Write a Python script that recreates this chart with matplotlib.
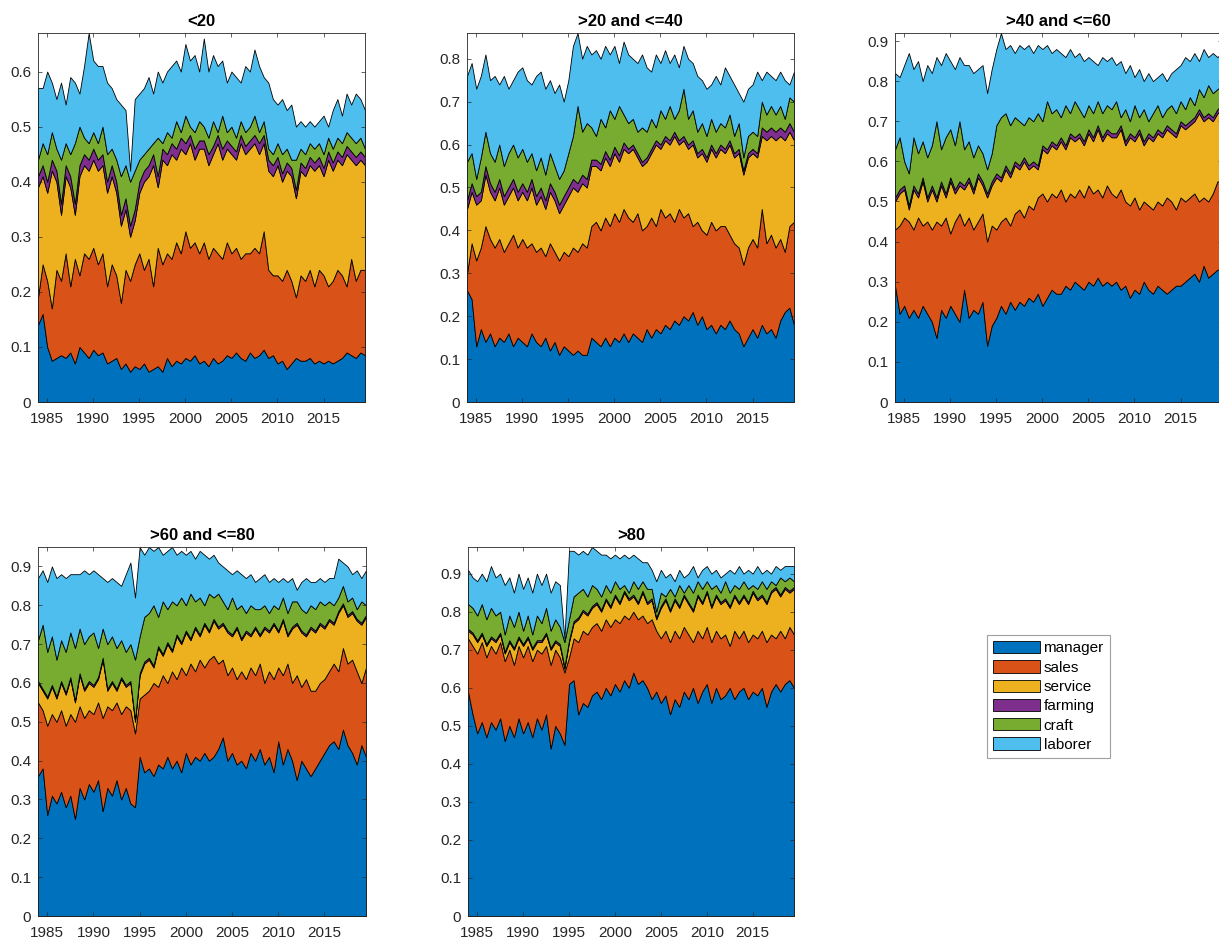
import numpy as np
import matplotlib
matplotlib.use("Agg")
import matplotlib.pyplot as plt
from matplotlib.ticker import MultipleLocator, FormatStrFormatter

plt.rcParams['font.family'] = ['Liberation Sans', 'DejaVu Sans']

# half-year steps, 1984.0 .. 2019.5
years = np.arange(1984, 2020, 0.5)
labels = ["manager", "sales", "service", "farming", "craft", "laborer"]
colors = ["#0072BD", "#D95319", "#EDB120", "#7E2F8E", "#77AC30", "#4DBEEE"]
titles = ["<20", ">20 and <=40", ">40 and <=60", ">60 and <=80", ">80"]

# cumulative top of each layer (percent)
# one row = 6 years (1984-89, 1990-95, ..., 2014-19), two points per year

# ---- <20 ----
p1_manager = [14, 16, 10, 7.5, 8, 8.5, 8, 9, 7, 10, 9, 8,
              9.5, 8.5, 9, 7, 7.5, 8, 6, 7, 5.5, 6.5, 6, 7,
              5.5, 6, 6.5, 5.5, 8, 6.5, 7.5, 7, 8, 7.5, 8.5, 7,
              7.5, 6.5, 8, 7, 7.5, 8.5, 8, 9, 8, 7.5, 9, 8,
              8.5, 9.5, 8, 8.5, 7, 7.5, 6, 7, 8, 7.5, 7.5, 8,
              7, 7.5, 7, 7.5, 7, 7.5, 8, 9, 8.5, 8, 9, 8.5]
p1_sales = [19, 25, 22, 17, 24, 22, 27, 21, 26, 23, 27, 26,
            28, 25, 27, 21, 25, 23, 18, 24, 22, 25, 27, 24,
            26, 21, 28, 25, 27, 26, 29, 27, 31, 28, 29, 27,
            29, 26, 28, 27, 26, 29, 27, 28, 26, 27, 27, 28,
            27, 31, 24, 23, 23, 22, 24, 22, 19, 23, 22, 24,
            21, 24, 23, 21, 22, 24, 23, 21, 26, 22, 24, 24]
p1_service = [39, 41, 38, 42, 40, 34, 41, 39, 34, 41, 43, 42,
              44, 42, 43, 38, 41, 38, 32, 35, 30, 33, 38, 40,
              41, 43, 39, 44, 43, 45, 44, 46, 45, 47, 44, 46,
              46, 43, 45, 47, 44, 46, 45, 44, 47, 45, 46, 47,
              45, 47, 42, 41, 43, 40, 42, 41, 37, 42, 41, 43,
              42, 43, 41, 44, 42, 44, 43, 45, 44, 43, 44, 43]
p1_farming = [41, 43, 40, 44, 42, 36, 43, 41, 36, 43, 45, 44,
              46, 44, 45, 40, 43, 40, 34, 37, 32, 35, 40, 42,
              43, 45, 41, 46, 45, 47, 46, 48, 47, 48.5, 46, 47.5,
              47.5, 45, 46.5, 48.5, 46, 47.5, 46.5, 45.5, 48.5, 46.5, 47.5, 48.5,
              47, 48.5, 44, 43, 44.5, 41.5, 43.5, 42.5, 38.5, 43.5, 42.5, 44.5,
              43.5, 44.5, 42.5, 45.5, 43.5, 45.5, 44.5, 46.5, 45.5, 44.5, 45.5, 44.5]
p1_craft = [44, 47, 45, 49, 46, 44, 47, 45, 47, 50, 48, 47,
            49, 47, 50, 45, 46, 44, 41, 43, 40, 42, 44, 45,
            46, 47, 48, 47, 49, 48, 51, 49, 52, 50, 49, 51,
            50, 48, 51, 49, 52, 49, 50, 48, 51, 49, 50, 52,
            49, 51, 46, 45, 47, 45, 46, 44, 44, 46, 45, 47,
            46, 47, 45, 48, 46, 48, 47, 49, 48, 47, 48, 46]
p1_laborer = [57, 57, 60, 58, 55, 58, 54, 59, 58, 56, 61, 67,
              62, 61, 61, 58, 57, 55, 54, 53, 42, 55, 56, 57,
              59, 56, 60, 58, 60, 61, 62, 60, 65, 62, 63, 60,
              66, 60, 63, 61, 62, 58, 60, 59, 58, 61, 60, 64,
              61, 59, 58, 55, 54, 55, 53, 54, 50, 51, 50, 51,
              50, 51, 52, 50, 53, 55, 52, 56, 54, 56, 55, 53]

# ---- >20 and <=40 ----
p2_manager = [26, 24, 13, 17, 14, 16, 13, 15, 14, 16, 13, 15,
              14, 13, 16, 14, 13, 15, 12, 14, 11, 13, 12, 11,
              12, 11, 11, 15, 14, 13, 15, 13, 15, 14, 16, 14,
              16, 15, 14, 17, 15, 17, 16, 18, 17, 19, 18, 20,
              19, 21, 18, 20, 17, 18, 16, 18, 17, 19, 17, 16,
              13, 15, 17, 15, 18, 16, 17, 15, 19, 21, 22, 18]
p2_sales = [30, 37, 33, 36, 41, 38, 36, 38, 35, 37, 39, 36,
            38, 36, 37, 35, 36, 34, 37, 35, 33, 35, 34, 36,
            35, 37, 36, 41, 42, 40, 43, 41, 44, 42, 45, 43,
            42, 44, 40, 41, 43, 41, 45, 43, 44, 42, 45, 43,
            44, 41, 42, 40, 39, 42, 40, 41, 41, 39, 37, 36,
            32, 36, 38, 36, 45, 37, 39, 36, 38, 35, 41, 42]
p2_service = [45, 49, 46, 47, 53, 49, 47, 50, 46, 48, 50, 47,
              49, 47, 50, 46, 48, 45, 49, 47, 44, 46, 48, 50,
              49, 51, 50, 55, 55, 54, 57, 55, 58, 56, 59, 58,
              59, 57, 55, 56, 58, 60, 59, 61, 60, 62, 60, 61,
              59, 60, 57, 58, 56, 59, 57, 59, 58, 60, 57, 58,
              53, 57, 58, 57, 62, 61, 62, 61, 62, 61, 63, 61]
p2_farming = [47, 51, 48, 49, 55, 51, 49, 52, 48, 50, 52, 49,
              51, 49, 52, 48, 50, 47, 51, 49, 46, 48, 50, 52,
              51, 53, 52, 56.5, 56.5, 55.5, 58.5, 56.5, 59.5, 57.5, 60.5, 59,
              60, 58, 56, 57, 59, 61, 60, 62, 61, 63, 61, 62,
              60, 61, 58, 59, 57, 60, 58, 60, 59, 61, 58, 59,
              54, 58, 59, 58, 64, 63, 64, 63, 64, 63, 65, 63]
p2_craft = [56, 58, 52, 57, 63, 58, 56, 60, 55, 58, 60, 57,
            59, 56, 58, 54, 57, 53, 58, 55, 52, 54, 58, 62,
            69, 63, 65, 64, 62, 66, 64, 68, 66, 69, 67, 65,
            66, 63, 64, 63, 66, 64, 68, 66, 69, 66, 68, 73,
            66, 68, 63, 65, 62, 66, 63, 65, 64, 67, 62, 65,
            57, 62, 63, 62, 70, 67, 69, 67, 69, 66, 71, 70]
p2_laborer = [76, 79, 73, 76, 81, 75, 76, 74, 76, 73, 75, 77,
              78, 75, 74, 76, 77, 73, 75, 72, 74, 70, 75, 83,
              86, 80, 83, 81, 82, 80, 83, 81, 83, 79, 84, 81,
              80, 79, 81, 78, 77, 81, 79, 82, 79, 81, 78, 83,
              80, 79, 76, 75, 73, 74, 76, 74, 78, 76, 74, 72,
              70, 73, 74, 77, 75, 77, 76, 75, 77, 75, 74, 77]

# ---- >40 and <=60 ----
p3_manager = [29, 22, 24, 21, 23, 21, 24, 22, 20, 16, 23, 21,
              24, 22, 20, 28, 21, 23, 22, 25, 14, 19, 21, 24,
              22, 25, 23, 25, 24, 26, 25, 27, 24, 26, 28, 27,
              27, 29, 28, 30, 29, 28, 30, 29, 31, 29, 30, 29,
              30, 28, 29, 26, 28, 27, 30, 28, 27, 29, 28, 27,
              28, 29, 29, 30, 31, 32, 30, 34, 31, 32, 33, 33]
p3_sales = [43, 44, 46, 45, 43, 46, 44, 45, 43, 45, 44, 46,
            42, 45, 47, 44, 46, 43, 45, 47, 40, 44, 43, 45,
            46, 44, 47, 48, 46, 49, 48, 51, 52, 50, 52, 51,
            53, 50, 52, 51, 53, 51, 54, 52, 53, 51, 54, 52,
            51, 53, 50, 49, 51, 48, 50, 49, 48, 50, 49, 51,
            50, 48, 51, 50, 51, 52, 50, 51, 50, 52, 55, 55]
p3_service = [50, 52, 53, 48, 53, 51, 55, 50, 53, 50, 54, 51,
              55, 52, 54, 53, 55, 52, 56, 54, 51, 54, 56, 55,
              58, 56, 59, 58, 60, 58, 59, 58, 63, 62, 64, 63,
              65, 63, 66, 65, 66, 64, 67, 65, 68, 65, 67, 66,
              66, 68, 64, 66, 65, 67, 64, 66, 65, 67, 66, 68,
              67, 66, 69, 68, 69, 70, 72, 70, 71, 70, 72, 73]
p3_farming = [51, 53, 54, 49, 54, 52, 56, 51, 54, 51, 55, 52,
              56, 53, 55, 54, 56, 53, 57, 55, 52, 55, 57, 56,
              59, 57, 60, 59, 61, 59, 60, 59, 64, 63, 65, 64,
              66, 64, 67, 66, 67, 65, 68, 66, 69, 66, 68, 67,
              67, 69, 65, 67, 66, 68, 65, 67, 66, 68, 67, 69,
              68, 67, 70, 69, 70, 71, 73, 71, 72, 71, 73, 74]
p3_craft = [63, 66, 60, 57, 66, 62, 65, 61, 64, 70, 63, 66,
            68, 64, 70, 63, 65, 61, 64, 62, 58, 62, 69, 71,
            72, 69, 71, 70, 69, 71, 70, 72, 70, 75, 72, 73,
            71, 74, 72, 75, 73, 71, 74, 72, 75, 72, 74, 73,
            75, 71, 73, 70, 74, 71, 73, 70, 72, 74, 71, 73,
            74, 72, 75, 73, 76, 74, 78, 76, 79, 77, 78, 79]
p3_laborer = [82, 81, 84, 87, 83, 85, 80, 84, 82, 86, 84, 87,
              85, 83, 86, 84, 84, 82, 83, 84, 77, 83, 88, 92,
              88, 89, 87, 89, 88, 89, 87, 89, 88, 89, 87, 88,
              87, 86, 88, 86, 87, 85, 86, 85, 84, 86, 85, 86,
              84, 85, 82, 84, 81, 83, 80, 82, 80, 81, 82, 80,
              82, 83, 84, 86, 85, 87, 85, 88, 86, 87, 86, 87]

# ---- >60 and <=80 ----
p4_manager = [36, 38, 26, 31, 29, 32, 28, 31, 25, 33, 30, 34,
              32, 35, 27, 33, 31, 35, 30, 33, 29, 28, 41, 37,
              38, 36, 39, 38, 41, 38, 40, 37, 42, 39, 41, 40,
              42, 40, 41, 43, 46, 40, 42, 39, 40, 38, 42, 40,
              43, 39, 41, 37, 45, 39, 43, 40, 35, 40, 38, 36,
              38, 40, 42, 44, 45, 43, 48, 44, 42, 39, 44, 41]
p4_sales = [55, 53, 49, 52, 50, 53, 49, 52, 50, 54, 51, 53,
            52, 55, 51, 54, 53, 55, 52, 54, 53, 47, 56, 57,
            58, 60, 59, 62, 60, 63, 61, 64, 62, 65, 63, 66,
            64, 66, 67, 65, 66, 62, 64, 61, 63, 61, 64, 62,
            65, 60, 63, 61, 64, 62, 65, 60, 62, 59, 61, 58,
            58, 60, 61, 63, 65, 63, 69, 65, 66, 63, 60, 64]
p4_service = [60, 58, 56, 59, 56, 60, 57, 61, 55, 62, 58, 60,
              59, 61, 66, 58, 60, 58, 61, 59, 60, 50, 62, 65,
              66, 64, 69, 67, 70, 68, 72, 70, 73, 71, 74, 72,
              75, 73, 76, 74, 75, 73, 72, 74, 71, 73, 72, 74,
              72, 74, 73, 75, 73, 76, 72, 74, 75, 73, 72, 74,
              73, 75, 74, 76, 75, 78, 80, 77, 78, 76, 75, 77]
p4_farming = [60.5, 58.5, 56.5, 59.5, 56.5, 60.5, 57.5, 61.5, 55.5, 62.5, 58.5, 60.5,
              59.5, 61.5, 66.5, 58.5, 60.5, 58.5, 61.5, 59.5, 60.5, 50.5, 62.5, 65.5,
              66.5, 64.5, 69.5, 67.5, 70.5, 68.5, 72.5, 70.5, 73.5, 71.5, 74.5, 72.5,
              75.5, 73.5, 76.5, 74.5, 75.5, 73.5, 72.5, 74.5, 71.5, 73.5, 72.5, 74.5,
              72.5, 74.5, 73.5, 75.5, 73.5, 76.5, 72.5, 74.5, 75.5, 73.5, 72.5, 74.5,
              73.5, 75.5, 74.5, 76.5, 75.5, 78.5, 80.5, 77.5, 78.5, 76.5, 75.5, 77.5]
p4_craft = [71, 75, 68, 72, 66, 71, 68, 73, 69, 74, 70, 72,
            73, 69, 74, 70, 72, 69, 71, 68, 70, 66, 72, 77,
            78, 80, 77, 81, 79, 81, 80, 82, 80, 83, 81, 82,
            80, 83, 82, 83, 81, 79, 82, 79, 80, 78, 80, 79,
            79, 80, 78, 80, 79, 82, 78, 81, 81, 79, 78, 80,
            79, 81, 80, 81, 80, 82, 85, 81, 82, 79, 81, 80]
p4_laborer = [87, 89, 86, 90, 87, 88, 87, 88, 88, 88, 89, 88,
              89, 88, 87, 86, 87, 86, 85, 88, 91, 82, 95, 93,
              95, 94, 95, 93, 94, 95, 93, 94, 93, 94, 92, 94,
              93, 92, 93, 91, 90, 89, 88, 89, 88, 87, 88, 86,
              87, 88, 86, 87, 86, 87, 86, 87, 84, 86, 87, 86,
              86, 87, 86, 87, 87, 92, 91, 90, 88, 89, 87, 89]

# ---- >80 ----
p5_manager = [59, 53, 48, 51, 47, 51, 49, 52, 46, 50, 47, 52,
              48, 51, 47, 52, 49, 53, 44, 50, 48, 45, 61, 62,
              53, 56, 55, 58, 59, 57, 60, 58, 61, 59, 62, 60,
              64, 61, 62, 60, 57, 59, 56, 58, 53, 57, 55, 59,
              57, 60, 56, 59, 61, 56, 60, 57, 58, 60, 57, 59,
              60, 57, 59, 58, 60, 55, 59, 61, 59, 61, 62, 60]
p5_sales = [73, 71, 69, 72, 68, 71, 69, 72, 67, 70, 66, 71,
            68, 71, 67, 70, 69, 71, 66, 70, 68, 64, 68, 73,
            72, 75, 74, 76, 77, 75, 78, 76, 78, 77, 79, 78,
            80, 78, 79, 77, 78, 75, 73, 75, 72, 75, 73, 76,
            74, 72, 75, 73, 76, 72, 75, 73, 74, 71, 75, 73,
            75, 72, 74, 73, 75, 72, 74, 73, 75, 73, 76, 74]
p5_service = [75, 74, 72, 74, 71, 73, 72, 74, 69, 72, 70, 73,
              71, 73, 70, 72, 72, 74, 70, 72, 71, 65, 72, 77,
              78, 80, 79, 81, 82, 80, 83, 81, 84, 82, 85, 83,
              84, 82, 85, 82, 83, 78, 81, 83, 80, 83, 81, 84,
              82, 80, 84, 82, 85, 81, 84, 82, 83, 81, 84, 82,
              84, 82, 85, 83, 84, 82, 85, 86, 84, 86, 85, 86]
p5_farming = [75.5, 74.5, 72.5, 74.5, 71.5, 73.5, 72.5, 74.5, 69.5, 72.5, 70.5, 73.5,
              71.5, 73.5, 70.5, 72.5, 72.5, 74.5, 70.5, 72.5, 71.5, 65.5, 72.5, 77.5,
              78.5, 80.5, 79.5, 81.5, 82.5, 80.5, 83.5, 81.5, 84.5, 82.5, 85.5, 83.5,
              84.5, 82.5, 85.5, 82.5, 83.5, 78.5, 81.5, 83.5, 80.5, 83.5, 81.5, 84.5,
              82.5, 80.5, 84.5, 82.5, 85.5, 81.5, 84.5, 82.5, 83.5, 81.5, 84.5, 82.5,
              84.5, 82.5, 85.5, 83.5, 84.5, 82.5, 85.5, 86.5, 84.5, 86.5, 85.5, 86.5]
p5_craft = [82, 81, 79, 82, 78, 81, 79, 80, 74, 79, 76, 80,
            75, 79, 74, 79, 77, 81, 75, 78, 76, 72, 78, 84,
            85, 86, 84, 87, 86, 84, 87, 85, 88, 86, 87, 85,
            88, 86, 88, 86, 86, 80, 85, 84, 86, 84, 87, 85,
            87, 85, 88, 86, 88, 86, 87, 85, 88, 85, 87, 86,
            88, 86, 87, 86, 88, 86, 88, 87, 89, 88, 89, 88]
p5_laborer = [91, 89, 88, 90, 88, 92, 89, 90, 87, 89, 85, 90,
              86, 89, 85, 90, 87, 90, 85, 88, 87, 73, 96, 96,
              95, 96, 95, 97, 96, 95, 95, 94, 95, 94, 95, 94,
              95, 94, 93, 93, 91, 88, 91, 89, 90, 88, 91, 89,
              90, 92, 89, 91, 92, 90, 91, 89, 90, 91, 90, 92,
              90, 91, 90, 92, 90, 91, 90, 92, 91, 92, 92, 92]

panels = [
    [p1_manager, p1_sales, p1_service, p1_farming, p1_craft, p1_laborer],
    [p2_manager, p2_sales, p2_service, p2_farming, p2_craft, p2_laborer],
    [p3_manager, p3_sales, p3_service, p3_farming, p3_craft, p3_laborer],
    [p4_manager, p4_sales, p4_service, p4_farming, p4_craft, p4_laborer],
    [p5_manager, p5_sales, p5_service, p5_farming, p5_craft, p5_laborer],
]

W, H = 1219, 941
# axes boxes in pixels: left, top, width, height (third panel runs off the right edge)
boxes = [(38, 33, 327, 369), (467, 33, 327, 369), (895, 33, 327, 369),
         (38, 547, 328, 369), (468, 547, 326, 369)]
ink = "#262626"

fig = plt.figure(figsize=(W / 100, H / 100), dpi=100)
for title, tops, (l, t, w, h) in zip(titles, panels, boxes):
    ax = fig.add_axes([l / W, 1 - (t + h) / H, w / W, h / H])
    cum = np.array(tops, dtype=float) / 100
    shares = np.diff(np.vstack([np.zeros(len(years)), cum]), axis=0)
    polys = ax.stackplot(years, shares, colors=colors, labels=labels,
                         edgecolor="black", linewidth=0.6)
    ax.set_xlim(years[0], years[-1])
    ax.set_ylim(0, cum[-1].max())
    ax.set_xticks(range(1985, 2020, 5))
    ax.yaxis.set_major_locator(MultipleLocator(0.1))
    ax.yaxis.set_major_formatter(FormatStrFormatter("%g"))
    ax.tick_params(direction="in", top=True, right=True, length=3, width=0.5,
                   labelsize=11, colors=ink)
    ax.tick_params(axis="x", pad=7)
    ax.tick_params(axis="y", pad=5)
    for s in ax.spines.values():
        s.set_color(ink)
        s.set_linewidth(0.6)
    ax.set_title(title, fontsize=12, fontweight="bold", pad=5, color="black")

leg = fig.legend(polys, labels, loc="upper left",
                 bbox_to_anchor=(987 / W, 1 - 635 / H), fontsize=11,
                 handlelength=3.1, handleheight=0.85, labelspacing=0.32,
                 handletextpad=0.2, borderpad=0.4, borderaxespad=0,
                 fancybox=False, framealpha=1, edgecolor="#a0a0a0")
leg.get_frame().set_linewidth(0.8)

fig.savefig("out.png", dpi=100)
